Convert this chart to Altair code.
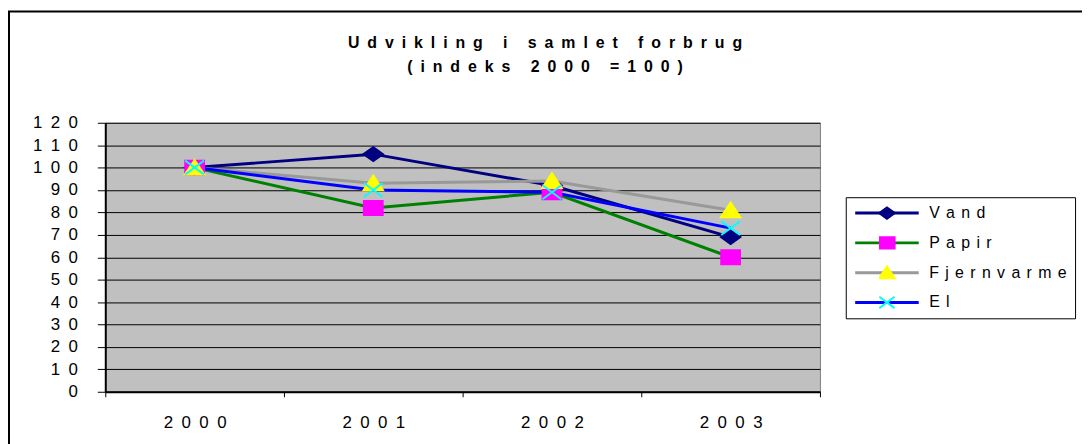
import altair as alt
import pandas as pd

# ---- data ----
years = ["2000", "2001", "2002", "2003"]
series_names = ["Vand", "Papir", "Fjernvarme", "El"]
vand = [100, 106, 92, 69]
papir = [100, 82, 89, 60]
fjernvarme = [100, 93, 94, 81]
el = [100, 90, 89, 73]
y_ticks = list(range(0, 130, 10))

title_text = "Udvikling i samlet forbrug"
subtitle_text = "(indeks 2000 =100)"

# ---- styles ----
FONT = "Liberation Sans"
SEP = "\u2002"
LEG_SEP = "\u2009\u2009"
line_colors = ["#000080", "#008000", "#999999", "#0000FF"]
marker_fills = ["#000080", "#FF00FF", "#FFFF00", "transparent"]
marker_strokes = ["#000080", "#FF00FF", "#FFFF00", "#00FFFF"]
marker_shapes = [
    "M-1.4,0L0,-1L1.4,0L0,1Z",
    "M-1.35,-1L1.35,-1L1.35,1L-1.35,1Z",
    "M0,-1.1L1.4,1L-1.4,1Z",
    "M-1.35,-1L1.35,1M-1.35,1L1.35,-1",
]


def spaced(s):
    return SEP.join(list(s))


rows = []
for name, vals in zip(series_names, [vand, papir, fjernvarme, el]):
    for yr, v in zip(years, vals):
        rows.append({"year": yr, "series": name, "marker": name, "value": v})
df = pd.DataFrame(rows)

spread_expr = "join(split(datum.label, ''), '" + SEP + "')"
legend_expr = "join(split(datum.label, ''), '" + LEG_SEP + "')"

x_enc = alt.X(
    "year:N",
    scale=alt.Scale(type="band", paddingInner=0, paddingOuter=0),
    axis=alt.Axis(
        title=None, labelAngle=0, tickBand="extent", grid=False,
        domainColor="black", domainWidth=2, tickColor="black", tickSize=5,
        labelFont=FONT, labelFontSize=17, labelColor="black", labelPadding=18,
        labelExpr=spread_expr,
    ),
)
y_enc = alt.Y(
    "value:Q",
    scale=alt.Scale(domain=[0, 120], nice=False, zero=True),
    axis=alt.Axis(
        title=None, values=y_ticks, grid=True, gridColor="black", gridWidth=1,
        gridOpacity=1, domainColor="black", domainWidth=2, tickColor="black",
        tickSize=8, labelFont=FONT, labelFontSize=17, labelColor="black",
        labelPadding=20, labelExpr=spread_expr,
    ),
)

base = alt.Chart(df)

border = alt.Chart(pd.DataFrame({"a": [0]})).mark_rect(
    fillOpacity=0, stroke="black", strokeWidth=2
).encode(
    x=alt.value(-97), x2=alt.value(1150), y=alt.value(-112), y2=alt.value(420)
)

lines = base.mark_line(strokeWidth=3).encode(
    x=x_enc,
    y=y_enc,
    color=alt.Color(
        "series:N",
        title=None,
        sort=series_names,
        scale=alt.Scale(range=line_colors),
        legend=alt.Legend(
            orient="none", legendX=746, legendY=75, symbolType="stroke",
            symbolSize=4096, symbolStrokeWidth=3, clipHeight=16, rowPadding=14,
            padding=8, strokeColor="black", labelFont=FONT, labelFontSize=16,
            labelColor="black", labelOffset=9, labelExpr=legend_expr,
        ),
    ),
)

pt_legend = alt.Legend(
    orient="none", legendX=771.5, legendY=75, symbolSize=130,
    symbolStrokeWidth=2, clipHeight=16, rowPadding=14, padding=8,
    labelFont=FONT, labelFontSize=16, labelOpacity=0, labelOffset=5,
    labelExpr=legend_expr,
)

points = base.mark_point(filled=True, opacity=1, strokeWidth=2, size=196).encode(
    x=x_enc,
    y=y_enc,
    fill=alt.Fill("marker:N", title=None,
                  scale=alt.Scale(domain=series_names, range=marker_fills),
                  legend=pt_legend),
    stroke=alt.Stroke("marker:N", title=None,
                      scale=alt.Scale(domain=series_names, range=marker_strokes),
                      legend=pt_legend),
    shape=alt.Shape("marker:N", title=None,
                    scale=alt.Scale(domain=series_names, range=marker_shapes),
                    legend=pt_legend),
)

chart = alt.layer(border, lines, points).properties(
    width=720,
    height=271,
    autosize=alt.AutoSizeParams(type="none"),
    padding={"left": 98, "top": 114, "right": 264, "bottom": 51},
    title=alt.Title(
        text=spaced(title_text),
        subtitle=spaced(subtitle_text),
        anchor="middle", frame="group", dx=83, offset=-65,
        font=FONT, fontSize=16, fontWeight="bold", color="black",
        subtitleFont=FONT, subtitleFontSize=16, subtitleFontWeight="bold",
        subtitleColor="black", subtitlePadding=8,
    ),
).configure(
    font=FONT, background="white"
).configure_view(
    fill="#C0C0C0", stroke="#808080", strokeWidth=1
)

chart.save("out.html", embed_options={"renderer": "svg", "actions": False})
